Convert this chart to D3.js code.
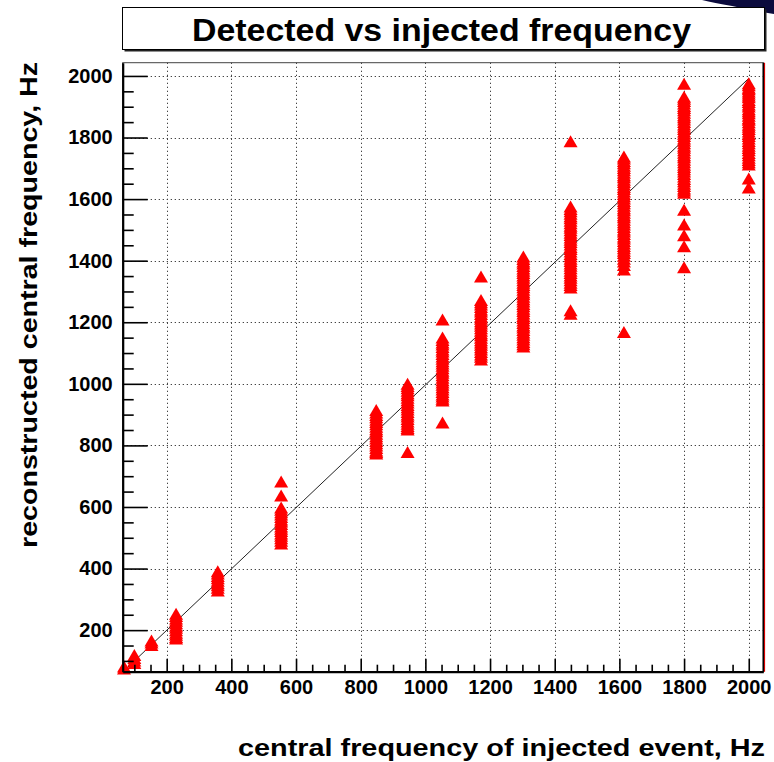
<!DOCTYPE html>
<html>
<head>
<meta charset="utf-8">
<script src="https://cdn.jsdelivr.net/npm/d3@7"></script>
<style>
  html, body { margin: 0; padding: 0; background: #fff; }
  svg text { font-family: "Liberation Sans", Arial, Helvetica, sans-serif; font-weight: bold; }
</style>
</head>
<body>
<svg id="chart" width="774" height="762"></svg>
<script>
// ---------- data ----------
const titleText = "Detected vs injected frequency";
const xLabel = "central frequency of injected event, Hz";
const yLabel = "reconstructed central frequency, Hz";

const xMajorTicks = [200, 400, 600, 800, 1000, 1200, 1400, 1600, 1800, 2000];
const yMajorTicks = [200, 400, 600, 800, 1000, 1200, 1400, 1600, 1800, 2000];

// injected frequency of each cluster
const injected = [68, 100, 153, 229, 358, 554, 848, 945, 1053, 1172, 1303, 1449, 1614, 1800, 2000];

// reconstructed frequencies for each cluster (same order as `injected`)
const rec68   = [80, 74];
const rec100  = [118, 108, 100, 92];
const rec153  = [165, 158, 150];
const rec229  = [252, 244, 236, 229, 221, 213, 206, 198, 190, 183, 176, 171];
const rec358  = [390, 382, 374, 367, 359, 351, 344, 336, 327];
const rec554  = [681, 636, 597, 589, 581, 574, 566, 558, 551, 543, 535, 528, 520, 512, 505, 497, 489, 480];
const rec848  = [913, 905, 897, 890, 882, 874, 867, 859, 851, 844, 836, 828, 821, 813, 805, 798, 790, 782, 777, 772];
const rec945  = [999, 991, 984, 976, 968, 961, 953, 945, 938, 930, 922, 915, 907, 899, 892, 884, 876, 869, 861, 855, 850, 777];
const rec1053 = [1207, 1149, 1141, 1133, 1126, 1118, 1110, 1103, 1095, 1087, 1080, 1072, 1064, 1057, 1049, 1041, 1034, 1026, 1018, 1010, 1003, 995, 987, 980, 972, 964, 957, 950, 944, 873];
const rec1172 = [1347, 1271, 1263, 1256, 1248, 1240, 1233, 1225, 1217, 1210, 1202, 1194, 1187, 1179, 1171, 1163, 1156, 1148, 1140, 1133, 1125, 1117, 1110, 1102, 1094, 1086, 1077];
const rec1303 = [1412, 1404, 1396, 1389, 1381, 1373, 1366, 1358, 1350, 1343, 1335, 1327, 1319, 1312, 1304, 1296, 1289, 1281, 1273, 1266, 1258, 1250, 1242, 1235, 1227, 1219, 1212, 1204, 1196, 1188, 1181, 1173, 1165, 1158, 1150, 1142, 1134, 1127, 1120];
const rec1449 = [1786, 1574, 1566, 1559, 1551, 1543, 1536, 1528, 1520, 1512, 1505, 1497, 1489, 1482, 1474, 1466, 1459, 1451, 1443, 1436, 1428, 1420, 1413, 1405, 1397, 1389, 1382, 1374, 1366, 1358, 1350, 1343, 1335, 1327, 1319, 1311, 1237, 1226];
const rec1614 = [1737, 1730, 1722, 1715, 1707, 1699, 1692, 1684, 1676, 1669, 1661, 1654, 1646, 1638, 1631, 1623, 1615, 1608, 1600, 1592, 1585, 1577, 1569, 1562, 1554, 1546, 1539, 1531, 1523, 1516, 1508, 1500, 1493, 1485, 1477, 1470, 1462, 1454, 1446, 1439, 1431, 1423, 1414, 1405, 1396, 1384, 1370, 1167];
const rec1800 = [1973, 1931, 1924, 1917, 1909, 1901, 1894, 1887, 1879, 1871, 1864, 1857, 1849, 1841, 1833, 1826, 1818, 1811, 1803, 1795, 1788, 1780, 1772, 1765, 1757, 1749, 1741, 1734, 1726, 1718, 1710, 1703, 1695, 1688, 1680, 1672, 1664, 1656, 1648, 1641, 1633, 1626, 1619, 1564, 1516, 1481, 1445, 1377];
const rec2000 = [1975, 1968, 1960, 1955, 1948, 1941, 1935, 1929, 1920, 1914, 1906, 1899, 1890, 1884, 1877, 1869, 1861, 1856, 1848, 1840, 1833, 1826, 1818, 1810, 1803, 1795, 1787, 1780, 1772, 1764, 1757, 1748, 1741, 1733, 1725, 1718, 1711, 1665, 1636];

const recLists = [rec68, rec100, rec153, rec229, rec358, rec554, rec848, rec945, rec1053, rec1172, rec1303, rec1449, rec1614, rec1800, rec2000];

const diagonal = [68, 2000]; // y = x reference line end points

// ---------- layout ----------
const svg = d3.select("#chart");
const L = 122.7, R = 763.3, T = 62.7, B = 671.7;

const x = d3.scaleLinear().domain([64, 2045]).range([L, R]);
const y = d3.scaleLinear().domain([65, 2043]).range([B, T]);

const minorX = d3.range(100, 2001, 50).filter(v => v % 200 !== 0);
const minorY = d3.range(100, 2001, 50).filter(v => v % 200 !== 0);

// navy decoration at top-right corner
svg.append("path")
  .attr("d", "M702,0 L774,0 L774,14 Q750,10 732,6 Q714,3 702,0 Z")
  .attr("fill", "#0b0b3d");

// title box with shadow
svg.append("rect").attr("x", 124.5).attr("y", 9.5).attr("width", 642).attr("height", 42).attr("fill", "#222");
svg.append("rect").attr("x", 122.5).attr("y", 7.5).attr("width", 642).attr("height", 42)
  .attr("fill", "#fff").attr("stroke", "#000").attr("stroke-width", 1);
svg.append("text")
  .attr("x", 441.5).attr("y", 41)
  .attr("text-anchor", "middle")
  .attr("font-size", 31)
  .attr("textLength", 499).attr("lengthAdjust", "spacingAndGlyphs")
  .attr("fill", "#000")
  .text(titleText);

// grid
const grid = svg.append("g").attr("stroke", "#444").attr("stroke-width", 1).attr("stroke-dasharray", "1.3,2.7");
grid.selectAll("line.vx").data(xMajorTicks).join("line")
  .attr("x1", d => Math.round(x(d)) + 0.5).attr("x2", d => Math.round(x(d)) + 0.5)
  .attr("y1", T).attr("y2", B);
grid.selectAll("line.hy").data(yMajorTicks).join("line")
  .attr("y1", d => Math.round(y(d)) + 0.5).attr("y2", d => Math.round(y(d)) + 0.5)
  .attr("x1", L).attr("x2", R);

// frame
svg.append("rect").attr("x", L).attr("y", T).attr("width", R - L).attr("height", B - T)
  .attr("fill", "none").attr("stroke", "#444").attr("stroke-width", 1);
svg.append("line").attr("x1", R + 1.2).attr("x2", R + 1.2).attr("y1", T).attr("y2", B)
  .attr("stroke", "#e00000").attr("stroke-width", 1.2);
svg.append("line").attr("x1", R).attr("x2", R).attr("y1", T).attr("y2", B)
  .attr("stroke", "#000").attr("stroke-width", 1.5);

// diagonal
svg.append("line")
  .attr("x1", x(diagonal[0])).attr("y1", y(diagonal[0]))
  .attr("x2", x(diagonal[1])).attr("y2", y(diagonal[1] - 8))
  .attr("stroke", "#222").attr("stroke-width", 1);

// markers
const points = [];
injected.forEach((f, i) => recLists[i].forEach(r => points.push({ f, r })));
const tri = "M0,-6.5 L7,5.5 L-7,5.5 Z";
svg.append("g").selectAll("path").data(points).join("path")
  .attr("d", tri)
  .attr("transform", d => `translate(${x(d.f)},${y(d.r)})`)
  .attr("fill", "#ff0000");

// axes
const fontSize = 20;
const yAxis = svg.append("g").attr("transform", `translate(${L},0)`)
  .call(d3.axisLeft(y).tickValues(yMajorTicks).tickSize(-25).tickSizeOuter(0).tickPadding(10).tickFormat(d3.format("d")));
svg.append("g").attr("transform", `translate(${L},0)`)
  .call(d3.axisLeft(y).tickValues(minorY).tickSize(-11).tickSizeOuter(0).tickFormat(""))
  .call(g => g.select(".domain").remove());
const xAxis = svg.append("g").attr("transform", `translate(0,${B})`)
  .call(d3.axisBottom(x).tickValues(xMajorTicks).tickSize(-13).tickSizeOuter(0).tickPadding(8).tickFormat(d3.format("d")));
svg.append("g").attr("transform", `translate(0,${B})`)
  .call(d3.axisBottom(x).tickValues(minorX).tickSize(-7).tickSizeOuter(0).tickFormat(""))
  .call(g => g.select(".domain").remove());

svg.selectAll(".tick line").attr("stroke", "#000").attr("stroke-width", 1.6);
[yAxis, xAxis].forEach(g => {
  g.select(".domain").attr("stroke", "#000").attr("stroke-width", 2.2);
  g.selectAll("text").attr("font-size", fontSize).attr("fill", "#000")
    .style("font-family", '"Liberation Sans", Arial, sans-serif').style("font-weight", "bold");
});

// axis titles
svg.append("text")
  .attr("x", 765).attr("y", 756)
  .attr("text-anchor", "end")
  .attr("font-size", 24)
  .attr("textLength", 527).attr("lengthAdjust", "spacingAndGlyphs")
  .text(xLabel);
svg.append("text")
  .attr("transform", "translate(37,305) rotate(-90)")
  .attr("text-anchor", "middle")
  .attr("font-size", 24)
  .attr("textLength", 486).attr("lengthAdjust", "spacingAndGlyphs")
  .text(yLabel);
</script>
</body>
</html>
